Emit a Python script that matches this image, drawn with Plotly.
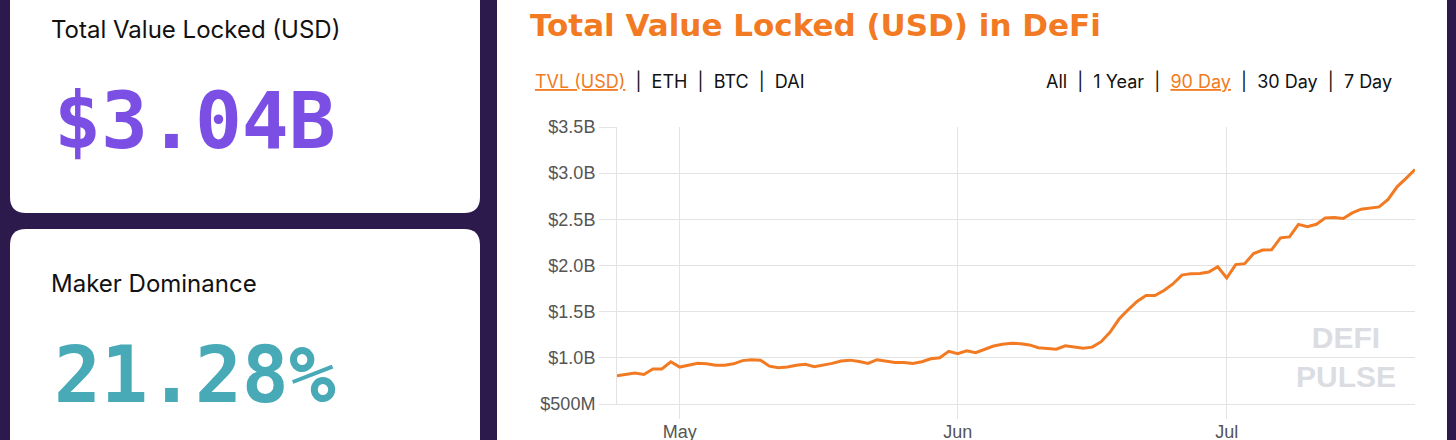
import plotly.graph_objects as go
import pandas as pd

# ---------------- data ----------------
start_date = "2020-04-24"
tvl_billions = [
    0.806, 0.82, 0.835, 0.82, 0.88, 0.88, 0.958,            # Apr 24 - Apr 30
    0.90, 0.92, 0.94, 0.935, 0.92, 0.92, 0.935, 0.97, 0.98, 0.975,
    0.91, 0.893, 0.90, 0.92, 0.93, 0.905, 0.92, 0.94, 0.965, 0.975,
    0.96, 0.94, 0.98, 0.969, 0.95, 0.95, 0.94, 0.958, 0.99, 1.00, 1.07,  # May
    1.044, 1.076, 1.055, 1.09, 1.128, 1.146, 1.157, 1.153, 1.14, 1.11,
    1.105, 1.094, 1.13, 1.12, 1.105, 1.116, 1.175, 1.28, 1.42, 1.52,
    1.61, 1.675, 1.675, 1.73, 1.80, 1.896, 1.912, 1.914, 1.93, 1.986,   # Jun
    1.865, 2.01, 2.02, 2.13, 2.167, 2.17, 2.30, 2.31, 2.445, 2.42,
    2.446, 2.516, 2.52, 2.51, 2.57, 2.61, 2.625, 2.635, 2.715, 2.852,
    2.943, 3.04,                                                        # Jul
]
dates = pd.date_range(start_date, periods=len(tvl_billions), freq="D")
tvl_usd = [v * 1e9 for v in tvl_billions]

y_tick_values = [0.5e9, 1.0e9, 1.5e9, 2.0e9, 2.5e9, 3.0e9, 3.5e9]
y_tick_labels = ["$500M", "$1.0B", "$1.5B", "$2.0B", "$2.5B", "$3.0B", "$3.5B"]
x_tick_values = ["2020-05-01", "2020-06-01", "2020-07-01"]
x_tick_labels = ["May", "Jun", "Jul"]

headline_tvl = "$3.04B"
headline_dominance = "21.28%"

# ---------------- layout helpers ----------------
W, H = 1456, 440
L, R, T, B = 617, 1415, 127, 404
ORANGE = "#f27a22"
BG = "#2c1a4d"


def xp(px):
    return (px - L) / (R - L)


def yp(py):
    return (B - py) / (B - T)


def rounded_rect(x0, y0, x1, y1, r):
    pts = []
    pts.append(f"M {xp(x0 + r)} {yp(y0)}")
    pts.append(f"L {xp(x1 - r)} {yp(y0)}")
    pts.append(f"Q {xp(x1)} {yp(y0)} {xp(x1)} {yp(y0 + r)}")
    pts.append(f"L {xp(x1)} {yp(y1 - r)}")
    pts.append(f"Q {xp(x1)} {yp(y1)} {xp(x1 - r)} {yp(y1)}")
    pts.append(f"L {xp(x0 + r)} {yp(y1)}")
    pts.append(f"Q {xp(x0)} {yp(y1)} {xp(x0)} {yp(y1 - r)}")
    pts.append(f"L {xp(x0)} {yp(y0 + r)}")
    pts.append(f"Q {xp(x0)} {yp(y0)} {xp(x0 + r)} {yp(y0)}")
    pts.append("Z")
    return " ".join(pts)


fig = go.Figure()
fig.add_trace(go.Scatter(
    x=dates, y=tvl_usd, mode="lines",
    line=dict(color=ORANGE, width=3),
    hoverinfo="skip", showlegend=False,
))

shapes = [
    dict(type="rect", xref="paper", yref="paper", layer="below",
         x0=xp(497), x1=xp(1447), y0=yp(460), y1=yp(-20),
         fillcolor="white", line=dict(width=0)),
    dict(type="path", xref="paper", yref="paper", layer="below",
         path=rounded_rect(10, -30, 480, 213, 16),
         fillcolor="white", line=dict(width=0)),
    dict(type="path", xref="paper", yref="paper", layer="below",
         path=rounded_rect(10, 229, 480, 480, 16),
         fillcolor="white", line=dict(width=0)),
]

TEXT_FONT = "Inter"
annotations = [
    dict(text="Total Value Locked (USD)", x=xp(49), y=yp(30),
         font=dict(family=TEXT_FONT, size=24, color="#111111")),
    dict(text=f"<b>{headline_tvl}</b>", x=xp(52), y=yp(121),
         font=dict(family="DejaVu Sans Mono", size=78, color="#7b4fe3")),
    dict(text="Maker Dominance", x=xp(49), y=yp(283),
         font=dict(family=TEXT_FONT, size=24, color="#111111")),
    dict(text=f"<b>{headline_dominance}</b>", x=xp(52), y=yp(375),
         font=dict(family="DejaVu Sans Mono", size=78, color="#47aab6")),
    dict(text="<b>Total Value Locked (USD) in DeFi</b>", x=xp(528), y=yp(25),
         font=dict(family="DejaVu Sans", size=31, color=ORANGE)),
    dict(text=f"<span style='color:{ORANGE}'><u>TVL (USD)</u></span>  |  ETH  |  BTC  |  DAI",
         x=xp(533), y=yp(81),
         font=dict(family=TEXT_FONT, size=18, color="#111111")),
    dict(text=f"All  |  1 Year  |  <span style='color:{ORANGE}'><u>90 Day</u></span>  |  30 Day  |  7 Day",
         x=xp(1044), y=yp(81),
         font=dict(family=TEXT_FONT, size=18, color="#111111")),
    dict(text="<b>DEFI</b><br><b>PULSE</b>", x=xp(1346), y=yp(357), xanchor="center",
         align="center",
         font=dict(family="Liberation Sans", size=30, color="#dcdce3")),
]
for a in annotations:
    a.setdefault("xanchor", "left")
    a.update(xref="paper", yref="paper", yanchor="middle", showarrow=False)

GRID = "#e3e3e3"
fig.update_layout(
    width=W, height=H,
    margin=dict(l=L, r=W - R, t=T, b=H - B, pad=0, autoexpand=False),
    paper_bgcolor=BG, plot_bgcolor="white",
    shapes=shapes, annotations=annotations,
    showlegend=False,
    xaxis=dict(
        type="date", automargin=False,
        range=[dates[0], dates[-1]],
        tickvals=x_tick_values, ticktext=x_tick_labels,
        showgrid=True, gridcolor=GRID, gridwidth=1,
        ticks="outside", ticklen=14, tickcolor=GRID, tickwidth=1,
        ticklabelstandoff=-3,
        showline=True, linecolor=GRID, linewidth=1,
        tickfont=dict(family="Liberation Sans", size=18, color="#555555"),
        zeroline=False, fixedrange=True,
    ),
    yaxis=dict(
        automargin=False,
        range=[0.5e9, 3.5e9],
        tickvals=y_tick_values, ticktext=y_tick_labels,
        showgrid=True, gridcolor=GRID, gridwidth=1,
        ticks="outside", ticklen=17, tickcolor=GRID, tickwidth=1,
        showline=True, linecolor=GRID, linewidth=1,
        tickfont=dict(family="Liberation Sans", size=18, color="#555555"),
        zeroline=False, fixedrange=True,
    ),
)

fig.write_html("out.html", config={"displayModeBar": False},
               post_script="document.body.style.margin='0';")
